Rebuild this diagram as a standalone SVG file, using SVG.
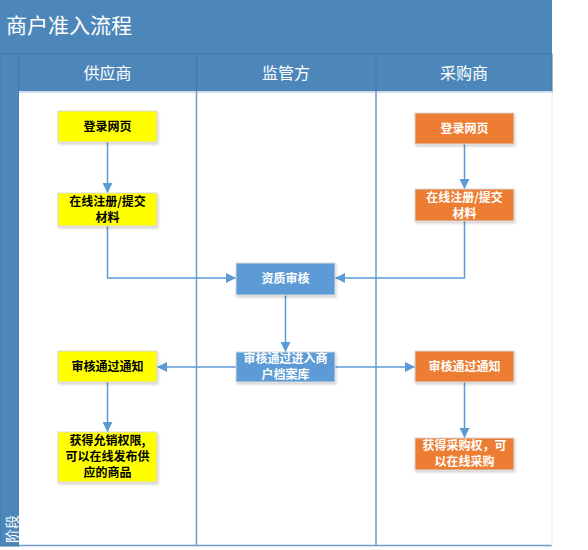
<svg xmlns="http://www.w3.org/2000/svg" width="588" height="550" viewBox="0 0 588 550">
<defs>
<marker id="ah" viewBox="0 0 10 10" refX="10" refY="5" markerWidth="10" markerHeight="10" markerUnits="userSpaceOnUse" orient="auto">
<path d="M0,0 L10,5 L0,10 z" fill="#5b9bd5"/>
</marker>
<filter id="sh" x="-10%" y="-10%" width="130%" height="140%">
<feDropShadow dx="1" dy="2" stdDeviation="1.2" flood-color="#000" flood-opacity="0.18"/>
</filter>
<style>
.cjk{font-family:"Noto Sans CJK SC","Noto Sans CJK JP",sans-serif}
.box{stroke:#d9d9d9;stroke-width:1;filter:url(#sh)}
.y{fill:#ffff00}
.o{fill:#ed7d31}
.b{fill:#5b9bd5}
.bt{font-size:12px;font-weight:bold;text-anchor:middle;fill:#000}
.wt{font-size:12px;font-weight:bold;text-anchor:middle;fill:#fff}
.hd{font-size:16px;fill:#fff;text-anchor:middle}
.lane{stroke:#6f9ccb;stroke-width:1.5;fill:none}
.con{stroke:#5b9bd5;stroke-width:1.5;fill:none;marker-end:url(#ah)}
</style>
</defs>
<rect x="0" y="0" width="588" height="550" fill="#fff"/>
<g id="pool">
<rect x="0" y="0" width="552" height="54" fill="#4d87ba"/>
<text class="cjk" x="6" y="33" font-size="21" fill="#fff">商户准入流程</text>
<rect x="0" y="54" width="552" height="38" fill="#4d87ba" stroke="#4178a8" stroke-width="1"/>
<rect x="0" y="54" width="19" height="492" fill="#4d87ba" stroke="#4178a8" stroke-width="1"/>
<rect x="19" y="92" width="533" height="454" fill="#fff"/>
<line x1="19" y1="92" x2="552" y2="92" stroke="#d0dced" stroke-width="2"/>
<line x1="196.5" y1="54" x2="196.5" y2="92" stroke="#4178a8"/>
<line x1="376" y1="54" x2="376" y2="92" stroke="#4178a8"/>
<text class="cjk hd" x="107.5" y="79">供应商</text>
<text class="cjk hd" x="286" y="79">监管方</text>
<text class="cjk hd" x="464" y="79">采购商</text>
<text class="cjk" transform="translate(16.5,543) rotate(-90)" font-size="14" fill="#fff">阶段</text>
<line class="lane" x1="196.5" y1="92" x2="196.5" y2="546"/>
<line class="lane" x1="376" y1="92" x2="376" y2="546"/>
<line x1="19" y1="545.5" x2="552" y2="545.5" stroke="#6f9ccb" stroke-width="1.5"/>
<line x1="552" y1="92" x2="552" y2="546" stroke="#e6edf5" stroke-width="1"/>
</g>
<g id="connectors">
<path class="con" d="M107.5,142 V193"/>
<path class="con" d="M107.5,226 V278 H236"/>
<path class="con" d="M464.5,144 V189"/>
<path class="con" d="M464.5,221 V278 H335"/>
<path class="con" d="M285.5,295 V352"/>
<path class="con" d="M236,367 H157"/>
<path class="con" d="M335,367 H415"/>
<path class="con" d="M107.5,382 V432"/>
<path class="con" d="M464.5,382 V438"/>
</g>
<g id="s1">
<rect class="box y" x="58" y="111" width="99" height="31"/>
<text class="cjk bt" x="107.5" y="131">登录网页</text>
</g>
<g id="s2">
<rect class="box y" x="58" y="193" width="99" height="33"/>
<text class="cjk bt" x="107.5" y="206">在线注册/提交</text>
<text class="cjk bt" x="107.5" y="222">材料</text>
</g>
<g id="p1">
<rect class="box o" x="415" y="113" width="99" height="31"/>
<text class="cjk wt" x="464.5" y="133">登录网页</text>
</g>
<g id="p2">
<rect class="box o" x="415" y="189" width="99" height="32"/>
<text class="cjk wt" x="464.5" y="202">在线注册/提交</text>
<text class="cjk wt" x="464.5" y="218">材料</text>
</g>
<g id="r1">
<rect class="box b" x="236" y="263" width="99" height="32"/>
<text class="cjk wt" x="285.5" y="283">资质审核</text>
</g>
<g id="r2">
<rect class="box b" x="236" y="352" width="99" height="30"/>
<text class="cjk wt" x="285.5" y="363">审核通过进入商</text>
<text class="cjk wt" x="285.5" y="379">户档案库</text>
</g>
<g id="s3">
<rect class="box y" x="58" y="351" width="99" height="31"/>
<text class="cjk bt" x="107.5" y="371">审核通过通知</text>
</g>
<g id="p3">
<rect class="box o" x="415" y="351" width="99" height="31"/>
<text class="cjk wt" x="464.5" y="371">审核通过通知</text>
</g>
<g id="s4">
<rect class="box y" x="58" y="432" width="99" height="50"/>
<text class="cjk bt" x="107.5" y="445">获得允销权限,</text>
<text class="cjk bt" x="107.5" y="461">可以在线发布供</text>
<text class="cjk bt" x="107.5" y="477">应的商品</text>
</g>
<g id="p4">
<rect class="box o" x="415" y="438" width="99" height="32"/>
<text class="cjk wt" x="464.5" y="450">获得采购权，可</text>
<text class="cjk wt" x="464.5" y="466">以在线采购</text>
</g>
</svg>
